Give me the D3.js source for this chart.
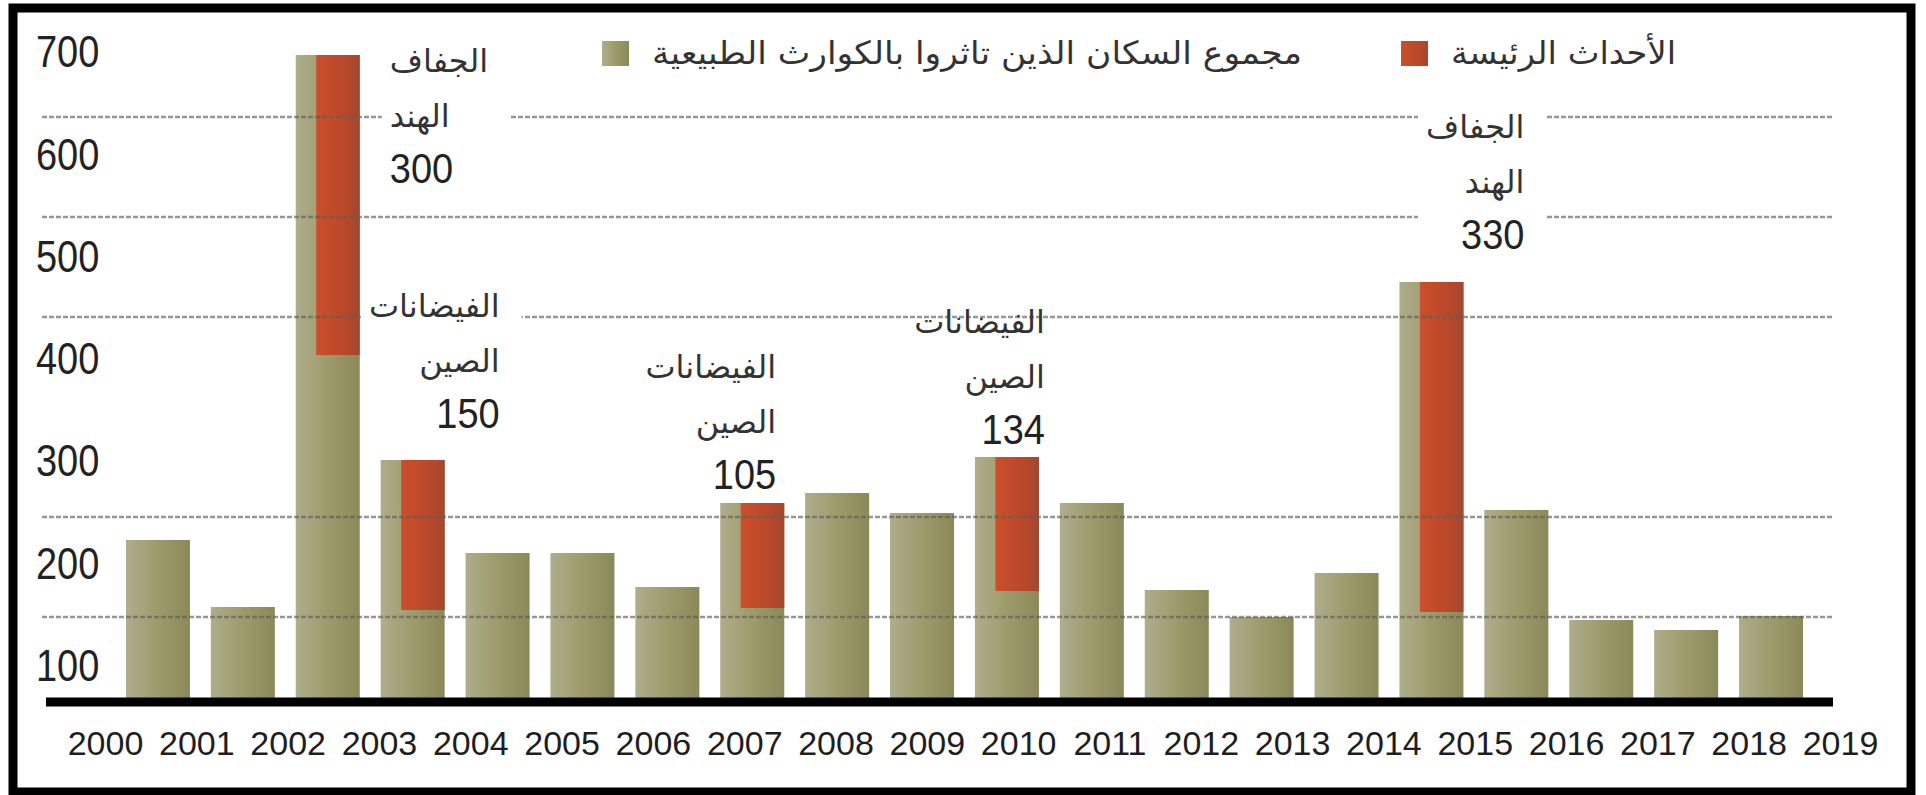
<!DOCTYPE html>
<html>
<head>
<meta charset="utf-8">
<script src="https://cdn.jsdelivr.net/npm/d3@7"></script>
<style>
  html, body { margin: 0; padding: 0; background: #fff; }
  svg { display: block; }
</style>
</head>
<body>
<svg id="chart" width="1926" height="795"></svg>
<script>
// people affected by natural disasters, millions
var years = [2000, 2001, 2002, 2003, 2004, 2005, 2006, 2007, 2008, 2009,
             2010, 2011, 2012, 2013, 2014, 2015, 2016, 2017, 2018, 2019];
var totals = [177, 110, 662, 257, 164, 164, 130, 214, 224, 204,
              260, 214, 127, 100, 144, 435, 207, 97, 87, 101];

// the big single events, stacked on top of the year's total
var eventYears = [2002, 2003, 2007, 2010, 2015];
var eventValues = [300, 150, 105, 134, 330];
var eventTypes = ['الجفاف', 'الفيضانات', 'الفيضانات', 'الفيضانات', 'الجفاف'];
var eventPlaces = ['الهند', 'الصين', 'الصين', 'الصين', 'الهند'];

var yTicks = [100, 200, 300, 400, 500, 600, 700];
var gridValues = [100, 200, 400, 500, 600];
var legendLabels = ['مجموع السكان الذين تاثروا بالكوارث الطبيعية', 'الأحداث الرئيسة'];

var svg = d3.select('#chart');
var numFont = '"Liberation Sans", Arial, sans-serif';
var arFont = '"DejaVu Sans", sans-serif';
var bg = '#fff';

// scales
var x = d3.scaleBand()
  .domain(years)
  .range([115.5, 1813.5])
  .paddingInner(0.246)
  .paddingOuter(0.123);
// the year labels sit on a slightly wider spread than the bars
var xLabel = d3.scalePoint()
  .domain(years)
  .range([105, 1840]);
// axis does not start at zero
var y = d3.scaleLinear()
  .domain([15, 700])
  .range([702, 17]);
// tick labels are spaced a little differently from the grid
var yLabel = d3.scaleLinear()
  .domain([0, 700])
  .range([767, 51]);

var bw = x.bandwidth();

// gradients for the bars
var defs = svg.append('defs');
var olive = defs.append('linearGradient').attr('id', 'olive');
olive.append('stop').attr('offset', '0%').attr('stop-color', '#afad8c');
olive.append('stop').attr('offset', '45%').attr('stop-color', '#9f9d6e');
olive.append('stop').attr('offset', '100%').attr('stop-color', '#8b8958');
var rust = defs.append('linearGradient').attr('id', 'rust');
rust.append('stop').attr('offset', '0%').attr('stop-color', '#cb4f2b');
rust.append('stop').attr('offset', '60%').attr('stop-color', '#bb482a');
rust.append('stop').attr('offset', '100%').attr('stop-color', '#a3472e');

// frame
svg.append('rect')
  .attr('x', 13).attr('y', 8)
  .attr('width', 1898).attr('height', 784)
  .attr('fill', bg)
  .attr('stroke', '#000')
  .attr('stroke-width', 9);

// bars
var rows = years.map(function(yr, i) { return { year: yr, total: totals[i] }; });
svg.append('g').selectAll('rect')
  .data(rows)
  .enter().append('rect')
  .attr('x', function(d) { return x(d.year); })
  .attr('y', function(d) { return y(d.total); })
  .attr('width', bw)
  .attr('height', function(d) { return y(15) - y(d.total); })
  .attr('fill', 'url(#olive)');

var events = eventYears.map(function(yr, i) {
  return {
    year: yr,
    value: eventValues[i],
    type: eventTypes[i],
    place: eventPlaces[i],
    total: totals[years.indexOf(yr)]
  };
});

svg.append('g').selectAll('rect')
  .data(events)
  .enter().append('rect')
  .attr('x', function(d) { return x(d.year) + bw * 0.32; })
  .attr('y', function(d) { return y(d.total); })
  .attr('width', bw * 0.68)
  .attr('height', function(d) { return y(d.total - d.value) - y(d.total); })
  .attr('fill', 'url(#rust)');

// dashed grid drawn over the bars
svg.append('g').selectAll('line')
  .data(gridValues)
  .enter().append('line')
  .attr('x1', 42).attr('x2', 1833)
  .attr('y1', function(d) { return y(d); })
  .attr('y2', function(d) { return y(d); })
  .attr('stroke', '#5e5e5e')
  .attr('stroke-opacity', 0.65)
  .attr('stroke-width', 2.5)
  .attr('stroke-dasharray', '5,2');

// heavy base line
svg.append('line')
  .attr('x1', 46).attr('x2', 1833)
  .attr('y1', y(15)).attr('y2', y(15))
  .attr('stroke', '#000')
  .attr('stroke-width', 9);

// year labels
var xAxis = svg.append('g')
  .attr('transform', 'translate(0,731)')
  .call(d3.axisBottom(xLabel).tickSize(0).tickPadding(0));
xAxis.select('.domain').remove();
xAxis.selectAll('text')
  .attr('font-family', numFont)
  .attr('font-size', 34)
  .attr('fill', '#1e1e1e');

// value labels on the left
var yAxis = svg.append('g')
  .call(d3.axisLeft(yLabel).tickValues(yTicks).tickSize(0));
yAxis.select('.domain').remove();
yAxis.selectAll('text')
  .attr('x', 36)
  .attr('dy', '0.36em')
  .attr('text-anchor', 'start')
  .attr('transform', 'scale(1,1.15)')
  .attr('font-family', numFont)
  .attr('font-size', 38)
  .attr('fill', '#222');

// event notes, placed by hand next to their bars
var notePlace = {
  2002: { dx: 30, anchor: 'start', dy: 7, box: true },
  2003: { dx: 55, anchor: 'end', dy: -153, box: true },
  2007: { dx: -8, anchor: 'end', dy: -135, box: false },
  2010: { dx: 6, anchor: 'end', dy: -134, box: false },
  2015: { dx: 61, anchor: 'end', dy: -154, box: true }
};
var lineStep = [0, 55, 106];

var notes = svg.append('g');
events.forEach(function(d) {
  var p = notePlace[d.year];
  var tx = x(d.year) + bw + p.dx;
  var top = y(d.total) + p.dy;
  var g = notes.append('g');
  var box = g.append('rect').attr('fill', bg);

  [d.type, d.place].forEach(function(word, k) {
    g.append('text')
      .attr('x', tx).attr('y', top + lineStep[k])
      .attr('dy', '0.3em')
      .attr('text-anchor', p.anchor)
      .attr('font-family', arFont)
      .attr('font-size', 32)
      .attr('fill', '#333')
      .text(word);
  });
  g.append('text')
    .attr('transform', 'translate(' + tx + ',' + (top + lineStep[2]) + ') scale(1,1.12)')
    .attr('dy', '0.36em')
    .attr('text-anchor', p.anchor)
    .attr('font-family', numFont)
    .attr('font-size', 38)
    .attr('fill', '#222')
    .text(d.value);

  // white patch so the grid breaks around the note
  if (p.box) {
    var bb = g.node().getBBox();
    var i = years.indexOf(d.year);
    var left = Math.max(bb.x - 8, x(years[i - 1]) + bw + 1);
    box.attr('x', left)
      .attr('y', bb.y - 6)
      .attr('width', bb.x + bb.width + 22 - left)
      .attr('height', bb.height + 12);
  } else {
    box.remove();
  }
});

// legend
var legendX = [602, 1401];
var legendWidth = [650, 225];
var legendFill = ['url(#olive)', 'url(#rust)'];
var legend = svg.append('g');
legendLabels.forEach(function(label, i) {
  legend.append('rect')
    .attr('x', legendX[i]).attr('y', 41)
    .attr('width', 27).attr('height', 25)
    .attr('fill', legendFill[i]);
  legend.append('text')
    .attr('x', legendX[i] + 50).attr('y', 54)
    .attr('dy', '0.32em')
    .attr('font-family', arFont)
    .attr('font-size', 32)
    .attr('textLength', legendWidth[i])
    .attr('lengthAdjust', 'spacingAndGlyphs')
    .attr('fill', '#333')
    .text(label);
});
</script>
</body>
</html>
